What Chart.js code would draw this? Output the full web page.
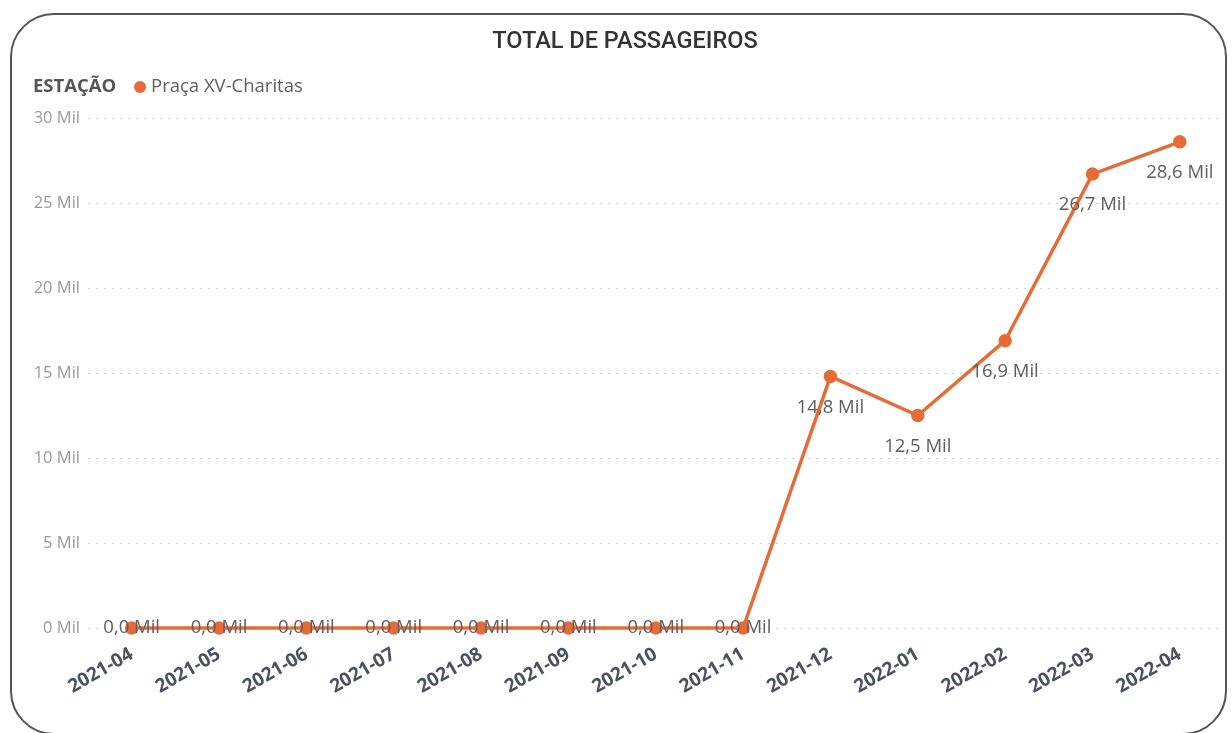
<!DOCTYPE html>
<html>
<head>
<meta charset="utf-8">
<script src="https://cdn.jsdelivr.net/npm/chart.js@4/dist/chart.umd.min.js"></script>
<style>
  html, body { margin: 0; padding: 0; background: #fff; }
  #card {
    position: absolute; left: 10px; top: 13px; width: 1217px; height: 722px;
    border: 2px solid #555; border-radius: 44px; box-sizing: border-box;
  }
  #myChart { position: absolute; left: 0; top: 0; }
</style>
</head>
<body>
<div id="card"></div>
<canvas id="myChart" width="1232" height="733"></canvas>
<script>
const months = [
    '2021-04', '2021-05', '2021-06', '2021-07', '2021-08', '2021-09', '2021-10',
    '2021-11', '2021-12', '2022-01', '2022-02', '2022-03', '2022-04'
];
const passengers = [0, 0, 0, 0, 0, 0, 0, 0, 14800, 12500, 16900, 26700, 28600];
const seriesName = 'Praça XV-Charitas';
const legendTitle = 'ESTAÇÃO';
const chartTitle = 'TOTAL DE PASSAGEIROS';

const orange = '#E66C37';
const fontName = '"Open Sans", "DejaVu Sans", sans-serif';

function milLabel(v) {
    return (v / 1000).toFixed(1).replace('.', ',') + ' Mil';
}

// title, legend and point labels drawn by hand
const extras = {
    id: 'extras',
    afterDatasetsDraw(chart) {
        const c = chart.ctx;
        const area = chart.chartArea;
        c.save();
        c.font = '18.5px ' + fontName;
        c.fillStyle = '#605E5C';
        c.textAlign = 'center';
        c.textBaseline = 'middle';
        const meta = chart.getDatasetMeta(0);
        meta.data.forEach((pt, i) => {
            let y = pt.y + 31;
            if (y > area.bottom) y = pt.y;
            c.fillText(milLabel(passengers[i]), pt.x, y);
        });
        c.restore();
    },
    afterDraw(chart) {
        const c = chart.ctx;
        c.save();
        c.textBaseline = 'middle';
        c.fillStyle = '#333';
        c.textAlign = 'center';
        c.font = '500 23.5px Roboto, ' + fontName;
        c.fillText(chartTitle, 625, 42);

        c.textAlign = 'left';
        c.fillStyle = '#555';
        c.font = 'bold 18.5px ' + fontName;
        c.fillText(legendTitle, 33, 87);
        c.beginPath();
        c.arc(140, 87, 6, 0, Math.PI * 2);
        c.fillStyle = orange;
        c.fill();
        c.fillStyle = '#605E5C';
        c.font = '18.5px ' + fontName;
        c.fillText(seriesName, 151, 87);
        c.restore();
    }
};

const ctx = document.getElementById('myChart').getContext('2d');
const myChart = new Chart(ctx, {
    type: 'line',
    data: {
        labels: months,
        datasets: [{
            label: seriesName,
            data: passengers,
            borderColor: orange,
            backgroundColor: orange,
            borderWidth: 3.5,
            pointRadius: 5,
            pointHoverRadius: 5,
            tension: 0,
            clip: false
        }]
    },
    options: {
        responsive: false,
        animation: false,
        layout: { padding: { left: 30, right: 7, top: 118, bottom: 0 } },
        plugins: {
            legend: { display: false },
            title: { display: false },
            tooltip: { enabled: false }
        },
        scales: {
            x: {
                offset: true,
                grid: { display: false },
                border: { display: false },
                ticks: {
                    color: '#4a5260',
                    font: { family: fontName, size: 19, weight: 'bold' },
                    minRotation: 30,
                    maxRotation: 30,
                    padding: 7
                },
                afterFit(scale) { scale.height = 105; }
            },
            y: {
                min: 0,
                max: 30000,
                grid: { color: '#ccc', drawTicks: false },
                border: { display: false, dash: [2, 6] },
                ticks: {
                    stepSize: 5000,
                    color: '#999',
                    padding: 8,
                    font: { family: fontName, size: 16.5 },
                    callback: v => (v / 1000) + ' Mil'
                },
                afterFit(scale) { scale.width = 58; }
            }
        }
    },
    plugins: [extras]
});
</script>
</body>
</html>
